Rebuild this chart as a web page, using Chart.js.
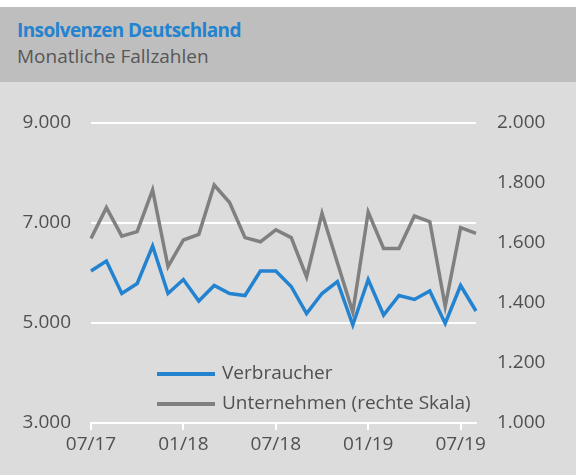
<!DOCTYPE html>
<html><head><meta charset="utf-8">
<script src="https://cdn.jsdelivr.net/npm/chart.js@4"></script>
<style>
html,body{margin:0;padding:0;width:576px;height:475px;overflow:hidden;background:#fff;font-family:"Open Sans",sans-serif;}
#head{position:absolute;left:0;top:7px;width:576px;height:75px;background:#bebebe;}
#title{position:absolute;left:17px;top:10px;font-weight:bold;color:#2383d0;font-size:19px;letter-spacing:-0.6px;white-space:nowrap;}
#sub{position:absolute;left:17px;top:36px;color:#575757;font-size:19px;white-space:nowrap;}
#wrap{position:absolute;left:0;top:82px;width:576px;height:393px;background:#dcdcdc;}
canvas{display:block;}
</style></head>
<body>
<div id="head"><div id="title">Insolvenzen Deutschland</div><div id="sub">Monatliche Fallzahlen</div></div>
<div id="wrap"><canvas id="c" width="576" height="393"></canvas></div>
<script>
const months = ["07/17","08/17","09/17","10/17","11/17","12/17","01/18","02/18","03/18","04/18","05/18","06/18","07/18","08/18","09/18","10/18","11/18","12/18","01/19","02/19","03/19","04/19","05/19","06/19","07/19","08/19"];
const verbraucher = [6040,6240,5590,5790,6540,5590,5870,5440,5750,5590,5550,6040,6040,5730,5190,5590,5830,4960,5870,5160,5550,5470,5640,4990,5750,5240];
const unternehmen = [1615,1718,1623,1638,1777,1521,1610,1629,1793,1735,1618,1604,1644,1618,1487,1699,1534,1369,1703,1582,1582,1690,1671,1389,1651,1632];
const leftTicks = {min:3000, max:9000, step:2000};
const rightTicks = {min:1000, max:2000, step:200};
const labelEvery = 6;

const fmt = v => String(v).replace(/\B(?=(\d{3})+(?!\d))/g, '.');
const textColor = '#505050';
const tickFont = {family:'"Open Sans", sans-serif', size:19};

const legendPlugin = {
  id:'inlineLegend',
  afterDraw(chart){
    const {ctx, chartArea:a} = chart;
    chart.data.datasets.forEach((ds,i)=>{
      const y = a.bottom - 49 + i*30;
      const x0 = a.left + 66;
      ctx.save();
      ctx.strokeStyle = ds.borderColor; ctx.lineWidth = 4;
      ctx.beginPath(); ctx.moveTo(x0,y); ctx.lineTo(x0+58,y); ctx.stroke();
      ctx.fillStyle = textColor; ctx.font = '19px "Open Sans", sans-serif'; ctx.textBaseline = 'middle';
      ctx.fillText(ds.label, x0+65, y);
      ctx.restore();
    });
  }
};

new Chart(document.getElementById('c'), {
  type:'line',
  data:{
    labels: months,
    datasets:[
      {label:'Verbraucher', data:verbraucher, yAxisID:'y', borderColor:'#2383d0', borderWidth:3.5, pointRadius:0, tension:0, fill:false},
      {label:'Unternehmen (rechte Skala)', data:unternehmen, yAxisID:'y1', borderColor:'#808080', borderWidth:3.5, pointRadius:0, tension:0, fill:false}
    ]
  },
  options:{
    responsive:false, animation:false,
    layout:{padding:{top:41,left:0,right:0,bottom:0}},
    plugins:{legend:{display:false}, tooltip:{enabled:false}},
    scales:{
      x:{
        offset:false,
        grid:{drawOnChartArea:false, drawTicks:true, tickLength:7, lineWidth:2,
              color:c => (c.index % labelEvery === 0) ? '#ffffff' : 'rgba(0,0,0,0)'},
        border:{display:true, color:'#ffffff', width:2},
        ticks:{autoSkip:false, maxRotation:0, padding:3, color:textColor, font:tickFont,
               callback:(v,i)=> (i % labelEvery === 0) ? months[i] : ''},
        afterFit:s=>{s.height = 52;}
      },
      y:{
        position:'left', min:leftTicks.min, max:leftTicks.max,
        grid:{color:'#ffffff', lineWidth:2, drawTicks:false},
        border:{display:false},
        ticks:{stepSize:leftTicks.step, padding:20, color:textColor, font:tickFont, callback:v=>fmt(v)},
        afterFit:s=>{s.width = 91;}
      },
      y1:{
        position:'right', min:rightTicks.min, max:rightTicks.max,
        grid:{drawOnChartArea:false, drawTicks:false},
        border:{display:false},
        ticks:{stepSize:rightTicks.step, padding:21, color:textColor, font:tickFont, callback:v=>fmt(v)},
        afterFit:s=>{s.width = 100;}
      }
    }
  },
  plugins:[legendPlugin]
});
</script>
</body></html>
